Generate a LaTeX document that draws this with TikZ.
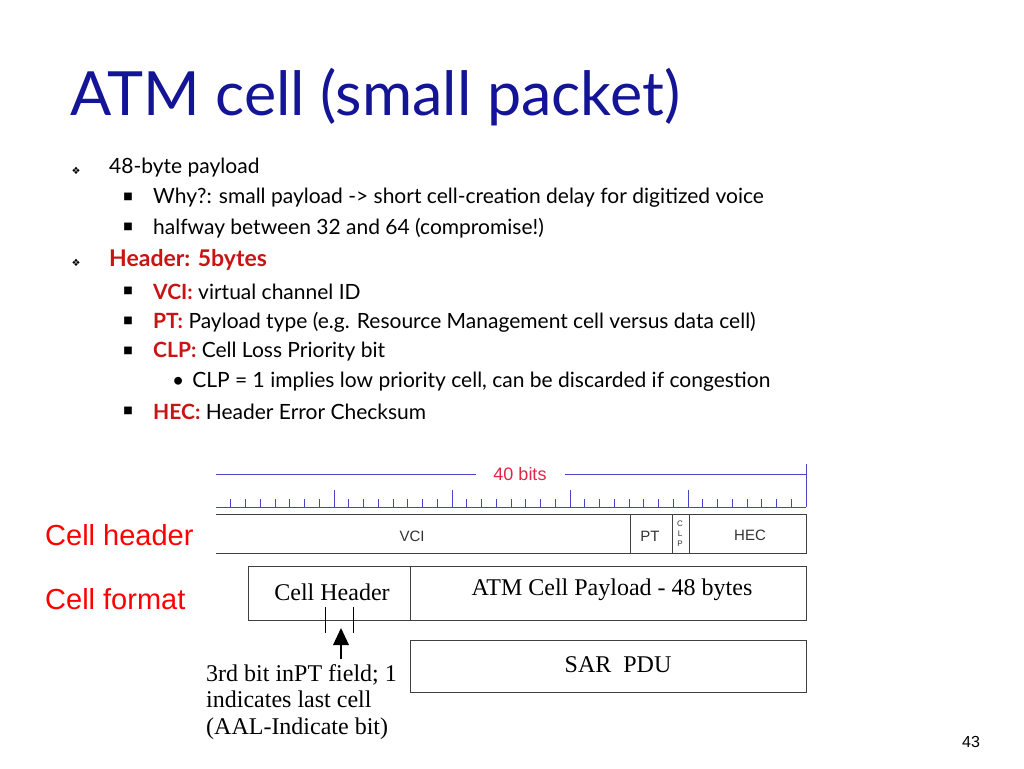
\documentclass[tikz,border=0pt]{standalone}
\usepackage{fontspec}
\setmainfont{Lato}
\newfontfamily\serifb{Liberation Serif}
\newfontfamily\djv{DejaVu Sans}
\newfontfamily\figf{Liberation Sans}
\definecolor{ttl}{RGB}{20,20,150}
\definecolor{hred}{RGB}{200,20,20}
\definecolor{rul}{RGB}{70,70,200}
\definecolor{bitred}{RGB}{220,40,70}
\begin{document}
\begin{tikzpicture}[x=1pt,y=-1pt,
  txt/.style={anchor=west,inner sep=0pt,font=\fontsize{21}{21}\selectfont},
  bul/.style={anchor=center,inner sep=0pt,font=\djv\fontsize{10}{10}\selectfont},
  box/.style={draw=black!75,line width=1pt},
  ruler/.style={draw=rul,line width=1pt},
  lbl/.style={font=\figf\fontsize{15}{15}\selectfont,text=black!80,inner sep=0pt},
  big/.style={font=\serifb\fontsize{24}{24}\selectfont,inner sep=0pt},
  red/.style={text=red,font=\figf\fontsize{29}{29}\selectfont,inner sep=0pt,anchor=west}]
\useasboundingbox (0,0) rectangle (1024,768);
\node[anchor=west,inner sep=0pt,text=ttl,font=\fontsize{61}{61}\selectfont] (title) at (70,97) {ATM cell (small packet)};
% bullets
\node[bul] (b1) at (76,171) {❖};
\node[txt] (t1) at (109,168) {48-byte payload};
\node[bul] (b2) at (128,197) {■};
\node[txt] (t2) at (153,198) {Why?: small payload -> short cell-creation delay for digitized voice};
\node[bul] (b3) at (128,227) {■};
\node[txt] (t3) at (153,228) {halfway between 32 and 64 (compromise!)};
\node[bul] (b4) at (76,263) {❖};
\node[txt,text=hred,font=\bfseries\fontsize{23}{23}\selectfont] (t4) at (109,260) {Header: 5bytes};
\node[bul] (b5) at (128,291) {■};
\node[txt] (t5) at (153,292) {\textcolor{hred}{\bfseries VCI:} virtual channel ID};
\node[bul] (b6) at (128,321) {■};
\node[txt] (t6) at (153,322) {\textcolor{hred}{\bfseries PT:} Payload type (e.g. Resource Management cell versus data cell)};
\node[bul] (b7) at (128,351) {■};
\node[txt] (t7) at (153,352) {\textcolor{hred}{\bfseries CLP:} Cell Loss Priority bit};
\node[txt] (t8) at (172,382) {•\hspace{8pt}CLP = 1 implies low priority cell, can be discarded if congestion};
\node[bul] (b9) at (128,411) {■};
\node[txt] (t9) at (153,412) {\textcolor{hred}{\bfseries HEC:} Header Error Checksum};
% ruler
\node[text=bitred,font=\figf\fontsize{18}{18}\selectfont,inner sep=0pt] (bits) at (520,474) {40 bits};
\coordinate (rl) at (216,474);
\coordinate (rr) at (806,474);
\draw[ruler] (rl) -- (476,474);
\draw[ruler] (565,474) -- (rr);
\draw[ruler] (806,464) -- (806,507);
\draw[ruler] (216,507) -- (806,507);
\foreach \k in {1,...,39}{
  \pgfmathsetmacro{\xx}{216+14.75*\k}
  \pgfmathsetmacro{\hh}{mod(\k,8)==0 ? 17 : 8}
  \draw[ruler] (\xx,507) -- (\xx,507-\hh);
}
% cell header box
\draw[box] (216,514) -- (806,514) -- (806,553) -- (216,553);
\draw[box] (630,514) -- (630,553);
\draw[box] (672,514) -- (672,553);
\draw[box] (689,514) -- (689,553);
\node[lbl] (vci) at (412,536) {VCI};
\node[lbl] (pt) at (650,536) {PT};
\node[font=\figf\fontsize{8}{10}\selectfont,inner sep=0pt,align=center,text=black!80] (clp) at (680,534) {C\\L\\P};
\node[lbl] (hec) at (750,535) {HEC};
% cell format
\node[box,minimum width=162pt,minimum height=54pt,inner sep=0pt] (ch) at (329,593) {};
\node[box,minimum width=396pt,minimum height=54pt,inner sep=0pt] (pl) at (608,593) {};
\node[big] at (332,592) {Cell Header};
\node[big] at (612,590) {ATM Cell Payload - 48 bytes};
\node[box,minimum width=396pt,minimum height=52pt,inner sep=0pt] (sar) at (608,666) {};
\node[big] at (618,665) {SAR\ \ PDU};
\draw[line width=1pt] (325,607) -- (325,633);
\draw[line width=1pt] (353,607) -- (353,633);
\coordinate (arrowbase) at (341,659);
\coordinate (arrowtip) at (341,628);
\draw[line width=1.2pt] (arrowbase) -- (341,643);
\fill (arrowtip) -- (333,645) -- (349,645) -- cycle;
\node[big,anchor=north west,align=left,font=\serifb\fontsize{24}{26.5}\selectfont] (note) at (206,664) {3rd bit inPT field; 1\\indicates last cell\\(AAL-Indicate bit)};
% red labels
\node[red] (lh) at (45,535) {Cell header};
\node[red] (lf) at (45,599) {Cell format};
\node[font=\figf\fontsize{16}{16}\selectfont,inner sep=0pt] (pg) at (971,742) {43};
\end{tikzpicture}
\end{document}
